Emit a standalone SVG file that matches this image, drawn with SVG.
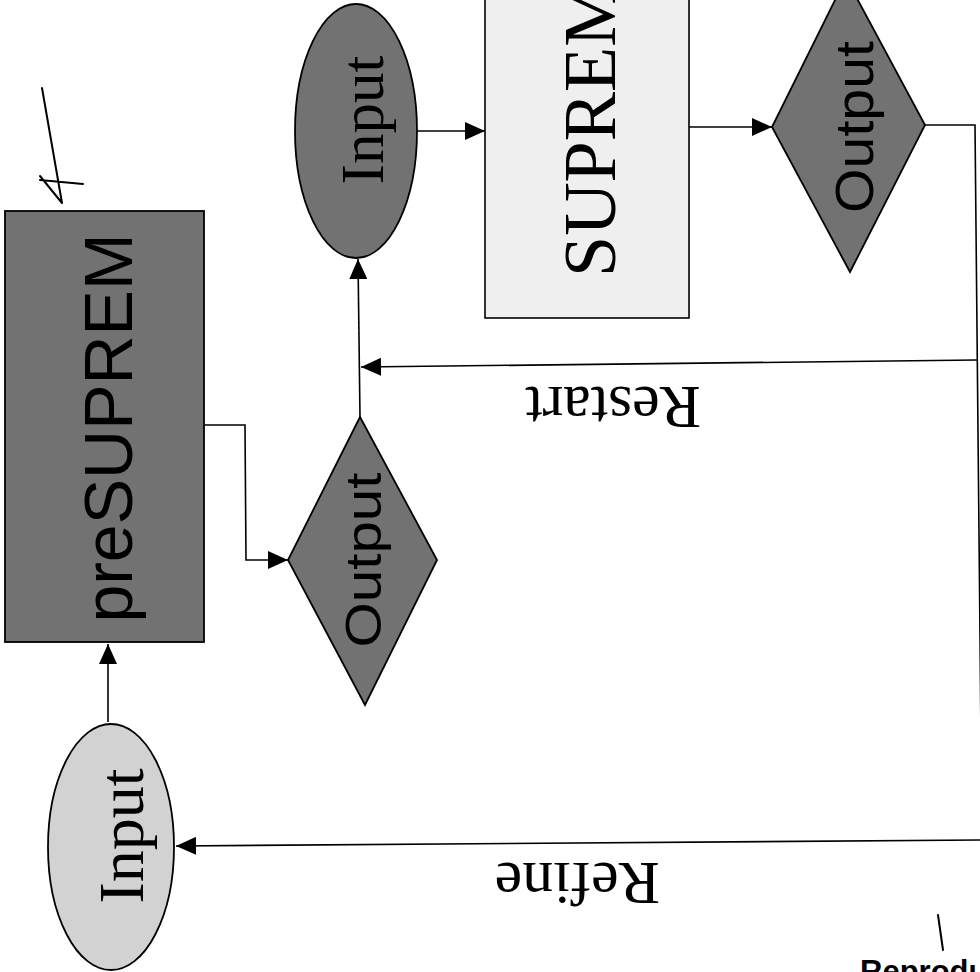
<svg xmlns="http://www.w3.org/2000/svg" width="980" height="972" viewBox="0 0 980 972">
  <style>
    .dark { fill: #727272; stroke: #000; stroke-width: 1.8; }
    .light { fill: #d2d2d2; stroke: #000; stroke-width: 1.8; }
    .pale { fill: #efefef; stroke: #000; stroke-width: 1.6; }
    .conn { fill: none; stroke: #000; stroke-width: 1.6; }
    .serif { font-family: "Liberation Serif", "Times New Roman", serif; fill: #000; }
    .sans { font-family: "Liberation Sans", Arial, sans-serif; fill: #000; }
    .hand { fill: none; stroke: #000; stroke-width: 2; stroke-linecap: round; stroke-linejoin: round; }
  </style>
  <defs>
    <marker id="arrow" viewBox="0 0 20 18" refX="20" refY="9" markerWidth="20" markerHeight="18" markerUnits="userSpaceOnUse" orient="auto">
      <path d="M0,0 L20,9 L0,18 Z" fill="#000"/>
    </marker>
  </defs>
  <rect x="0" y="0" width="980" height="972" fill="#fff"/>

  <g id="connectors">
    <path class="conn" d="M108,722 L108,644" marker-end="url(#arrow)"/>
    <path class="conn" d="M204,425 L245,425 L246,560 L288,560" marker-end="url(#arrow)"/>
    <path class="conn" d="M360,417 L358,259" marker-end="url(#arrow)"/>
    <path class="conn" d="M417,131 L485,131" marker-end="url(#arrow)"/>
    <path class="conn" d="M689,127 L772,127" marker-end="url(#arrow)"/>
    <path class="conn" d="M925,125 L975,125 L982,840"/>
    <path class="conn" d="M977,360 L361,367" marker-end="url(#arrow)"/>
    <path class="conn" d="M982,840 L176,846" marker-end="url(#arrow)"/>
  </g>

  <g id="input1">
    <ellipse class="light" cx="111" cy="847" rx="63" ry="123"/>
    <text class="serif" font-size="64" text-anchor="middle" transform="translate(143,836) rotate(-90)">Input</text>
  </g>

  <g id="presuprem">
    <rect class="dark" x="5" y="211" width="199" height="431"/>
    <text class="sans" font-size="68" text-anchor="middle" transform="translate(132,428) rotate(-90)">preSUPREM</text>
  </g>

  <g id="output1">
    <polygon class="dark" points="360,417 437,560 365,705 288,560"/>
    <text class="sans" font-size="50" text-anchor="middle" textLength="175" lengthAdjust="spacingAndGlyphs" transform="translate(381,560) rotate(-90)">Output</text>
  </g>

  <g id="input2">
    <ellipse class="dark" cx="356" cy="131" rx="61" ry="127"/>
    <text class="serif" font-size="61" text-anchor="middle" transform="translate(383,120) rotate(-90)">Input</text>
  </g>

  <g id="suprem">
    <rect class="pale" x="485" y="-10" width="204" height="328"/>
    <text class="serif" font-size="74" transform="translate(615,277) rotate(-90)">SUPREM</text>
  </g>

  <g id="output2">
    <polygon class="dark" points="846,-22 925,125 850,272 772,127"/>
    <text class="sans" font-size="54" text-anchor="middle" textLength="172" lengthAdjust="spacingAndGlyphs" transform="translate(873,127) rotate(-90)">Output</text>
  </g>

  <g id="labels">
    <text class="serif" font-size="62" transform="translate(701,387) rotate(180)">Restart</text>
    <text class="serif" font-size="62" transform="translate(660,863) rotate(180)">Refine</text>
  </g>

  <g id="annotations">
    <path class="hand" d="M42,88 L62,203 M40,176 L62,203 M40,180 L83,184"/>
    <path class="hand" stroke-width="1.5" d="M938,915 L943,950"/>
    <text class="sans" font-size="31" font-weight="bold" x="860" y="982">Reproduced from best available copy</text>
  </g>
</svg>
